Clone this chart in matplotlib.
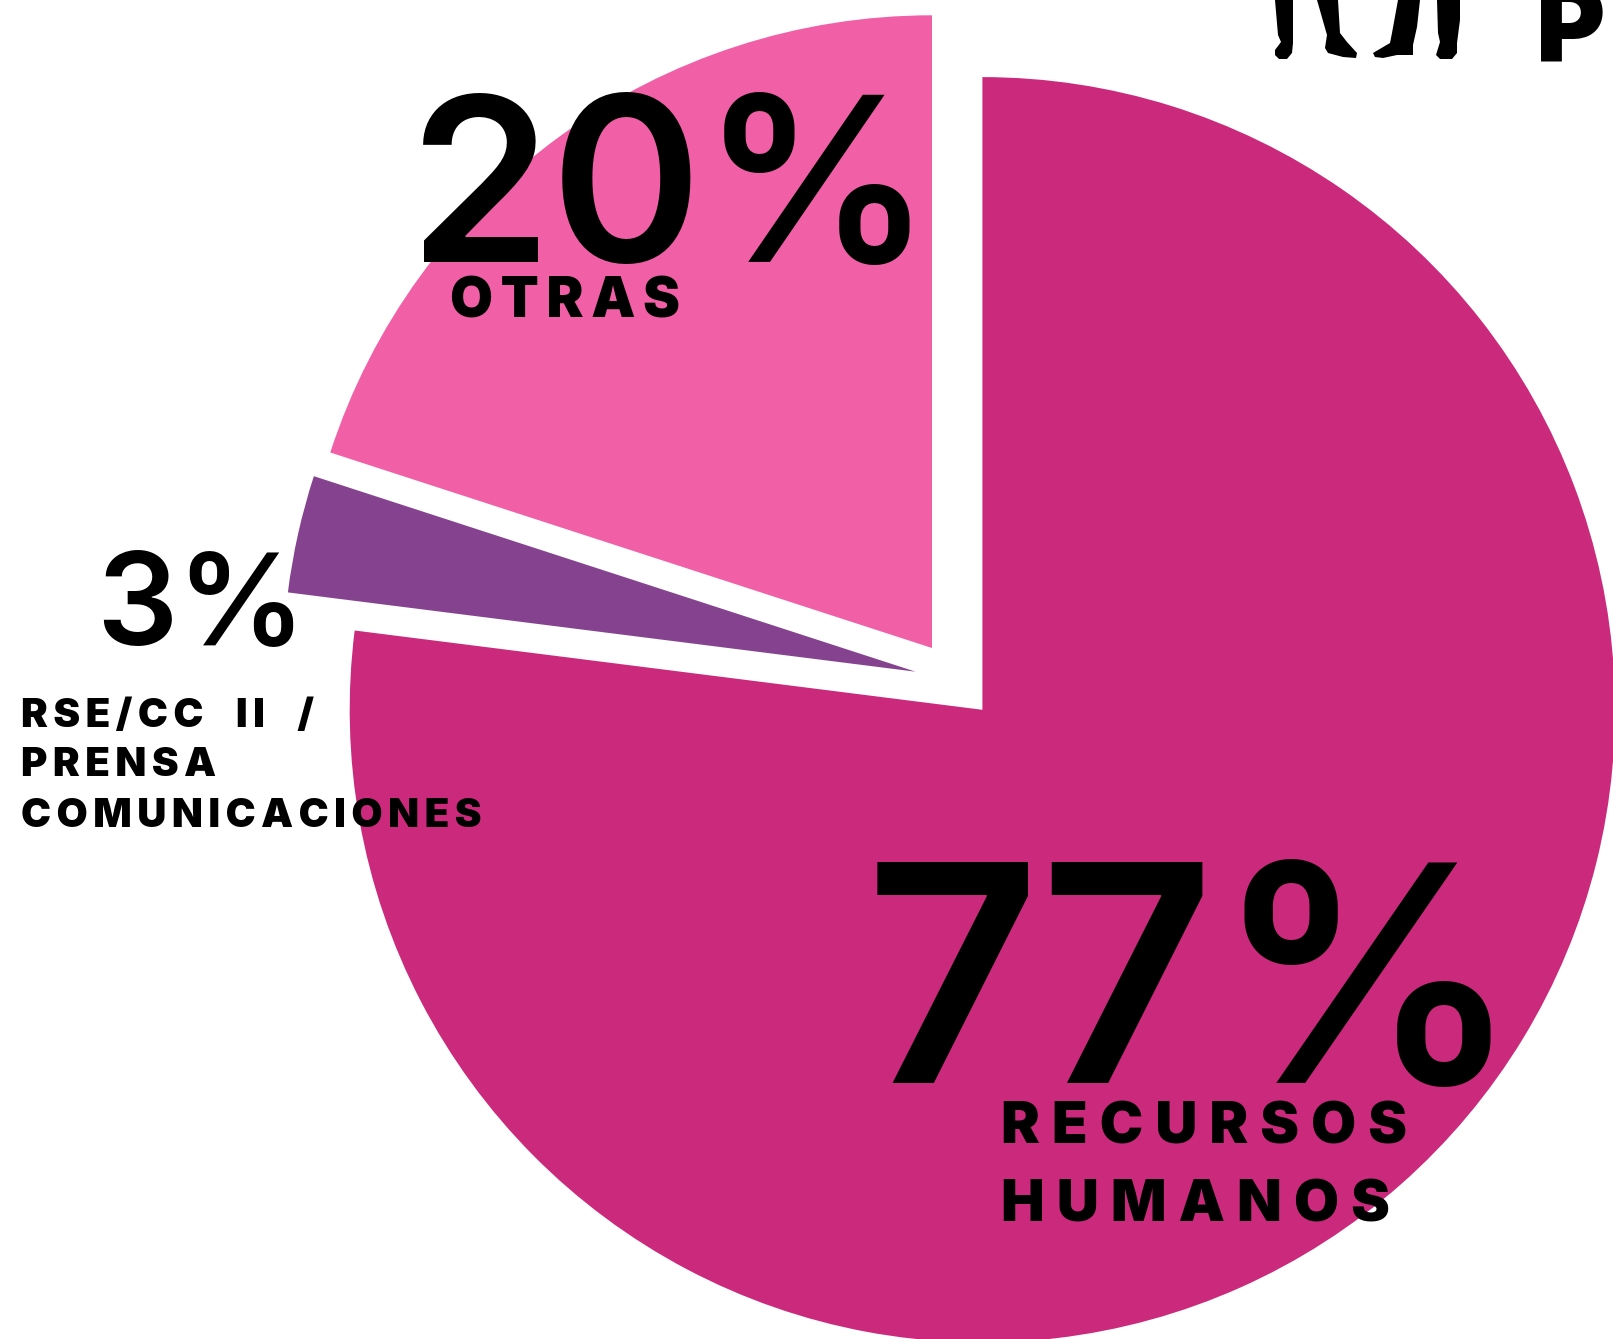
import matplotlib
matplotlib.use('Agg')
import matplotlib.pyplot as plt

W, H = 1613, 1339

areas = ['RECURSOS HUMANOS', 'RSE/CC II / PRENSA COMUNICACIONES', 'OTRAS']
values = [77, 3, 20]
colores = ['#CB297B', '#85428F', '#F15FA6']

plt.rcParams['font.family'] = ['Inter', 'DejaVu Sans']


def sp(s, gap='\u2009'):
    # separacion de letras con espacio fino
    return gap.join(s)


def Y(y):
    return H - y


fig = plt.figure(figsize=(W / 100, H / 100), dpi=100, facecolor='white')
ax = fig.add_axes([0, 0, 1, 1])

wedges, _ = ax.pie(values, colors=colores, startangle=90, counterclock=False, radius=632.7)
wedges[0].set_center((982.4, Y(709.8)))
wedges[1].set_center((915.6, Y(671.7)))
wedges[2].set_center((932.0, Y(648.0)))
ax.set_xlim(0, W)
ax.set_ylim(0, H)
ax.set_aspect('equal')
ax.axis('off')

# numeros grandes
ax.text(865, Y(1083), '77%', fontsize=219, fontweight='semibold', va='baseline', zorder=5)
ax.text(409, Y(262), '20%', fontsize=165, fontweight='semibold', va='baseline', zorder=5)
ax.text(96, Y(645), '3%', fontsize=92, fontweight='semibold', va='baseline', zorder=5)

# etiquetas
ax.text(450, Y(318), sp('OTRAS'), fontsize=40, fontweight='black', va='baseline', zorder=5)
ax.text(1001, Y(1144), sp('RECURSOS', '\u2009\u200a'), fontsize=42, fontweight='black', va='baseline', zorder=5)
ax.text(1001, Y(1221), sp('HUMANOS', '\u2009\u200a'), fontsize=42, fontweight='black', va='baseline', zorder=5)
ax.text(21, Y(727), sp('RSE/CC  II  /'), fontsize=29, fontweight='black', va='baseline', zorder=5)
ax.text(21, Y(776), sp('PRENSA'), fontsize=29, fontweight='black', va='baseline', zorder=5)
ax.text(21, Y(827), sp('COMUNICACIONES'), fontsize=29, fontweight='black', va='baseline', zorder=5)

# titulo cortado arriba a la derecha
ax.text(1536, Y(62), sp('PA'), fontsize=76, fontweight='black', va='baseline', clip_on=True)

# piernas de la silueta
piernas = [
    [(1275, 0), (1293, 0), (1293, 35), (1293, 43), (1292, 53), (1287, 59), (1279, 59), (1275, 55), (1275, 50), (1281, 42), (1278, 35)],
    [(1317, 0), (1338, 0), (1340, 33), (1347, 42), (1357, 53), (1356, 58), (1343, 57), (1328, 53), (1325, 48), (1327, 35)],
    [(1398, 0), (1420, 0), (1417, 27), (1413, 45), (1413, 55), (1397, 55), (1383, 58), (1375, 57), (1373, 53), (1390, 43), (1392, 33)],
    [(1437, 0), (1460, 0), (1460, 20), (1457, 43), (1457, 53), (1452, 59), (1440, 59), (1436, 55), (1440, 42), (1438, 33)],
]
for p in piernas:
    ax.fill([q[0] for q in p], [Y(q[1]) for q in p], color='black', lw=0)

fig.savefig('out.png', dpi=100)
